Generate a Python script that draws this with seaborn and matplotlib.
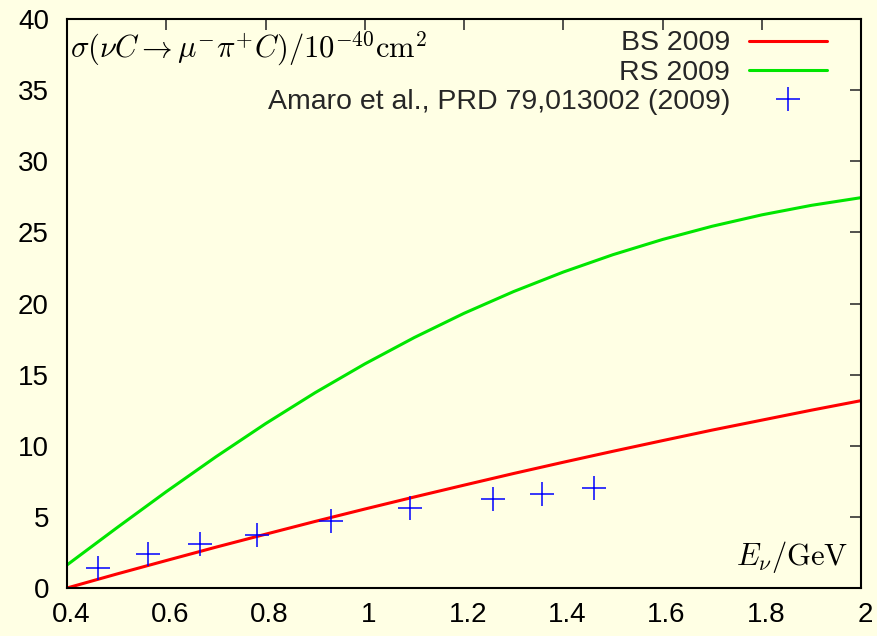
import matplotlib
matplotlib.use("Agg")
import matplotlib.pyplot as plt
from matplotlib.lines import Line2D
import matplotlib.transforms as mtransforms
import seaborn as sns
import pandas as pd

# ---- data ----
energy = [0.4, 0.5, 0.6, 0.7, 0.8, 0.9, 1.0, 1.1, 1.2, 1.3, 1.4, 1.5, 1.6, 1.7, 1.8, 1.9, 2.0]
bs2009 = [0.0, 0.98, 1.93, 2.87, 3.78, 4.68, 5.55, 6.40, 7.23, 8.05, 8.84, 9.61, 10.36, 11.10, 11.80, 12.50, 13.17]
rs2009 = [1.62, 4.22, 6.77, 9.22, 11.55, 13.73, 15.75, 17.61, 19.31, 20.84, 22.21, 23.43, 24.50, 25.43, 26.23, 26.90, 27.44]
amaro_e = [0.463, 0.563, 0.668, 0.782, 0.932, 1.091, 1.259, 1.357, 1.462]
amaro_xs = [1.43, 2.37, 3.07, 3.73, 4.69, 5.60, 6.26, 6.63, 7.01]
xticks = [0.4, 0.6, 0.8, 1.0, 1.2, 1.4, 1.6, 1.8, 2.0]
xticklabels = ["0.4", "0.6", "0.8", "1", "1.2", "1.4", "1.6", "1.8", "2"]
yticks = [0, 5, 10, 15, 20, 25, 30, 35, 40]
labels = ["BS 2009", "RS 2009", "Amaro et al., PRD 79,013002 (2009)"]

BG = "#ffffe4"
RED = "#ff0000"
GREEN = "#00e600"
BLUE = "#0000ff"

sns.set_theme(style="white")
plt.rcParams["font.family"] = ["Liberation Sans", "DejaVu Sans"]
plt.rcParams["mathtext.fontset"] = "cm"

FS = 20
LFS = 20.5

fig = plt.figure(figsize=(8.78, 6.36), dpi=100, facecolor=BG)
ax = fig.add_axes([67/878, 1-588/636, (861-67)/878, (588-19)/636])
ax.set_facecolor(BG)

curves = pd.DataFrame({"E": energy, "BS": bs2009, "RS": rs2009})
pts = pd.DataFrame({"E": amaro_e, "xs": amaro_xs})

sns.lineplot(data=curves, x="E", y="BS", color=RED, linewidth=2.2, ax=ax)
sns.lineplot(data=curves, x="E", y="RS", color=GREEN, linewidth=2.2, ax=ax)
sns.scatterplot(data=pts, x="E", y="xs", marker="+", s=300, linewidth=1.1, color=BLUE, ax=ax, zorder=3)

ax.set_xlim(0.4, 2.0)
ax.set_ylim(0, 40)
ax.set_xticks(xticks)
ax.set_xticklabels(xticklabels)
ax.set_yticks(yticks)
ax.set_xlabel("")
ax.set_ylabel("")
ax.tick_params(axis="both", which="both", direction="in", length=8, width=1.2,
               color="#333333", labelsize=FS, top=True, right=True, labelcolor="black")
ax.tick_params(axis="x", pad=10)
ax.tick_params(axis="y", pad=13)
offset = mtransforms.ScaledTranslation(4/100, 0, fig.dpi_scale_trans)
for lab in ax.get_xticklabels():
    lab.set_transform(lab.get_transform() + offset)
for s in ax.spines.values():
    s.set_visible(True)
    s.set_color("black")
    s.set_linewidth(1.5)

ax.text(0.004, 0.948, r"$\sigma(\nu C \rightarrow \mu^{-}\pi^{+}C)/10^{-40}\mathrm{cm}^2$",
        transform=ax.transAxes, fontsize=22, ha="left", va="center", color="black")
ax.text(0.9836, 0.0545, r"$E_\nu/\mathrm{GeV}$", transform=ax.transAxes,
        fontsize=22, ha="right", va="center", color="black")

handles = [Line2D([], [], color=RED, linewidth=2.2),
           Line2D([], [], color=GREEN, linewidth=2.2),
           Line2D([], [], color=BLUE, marker="+", linestyle="", markersize=17, markeredgewidth=1.1)]
ax.legend(handles, labels, loc="upper right", bbox_to_anchor=((827-67)/794, (588-30.5)/569),
          markerfirst=False, frameon=False, fontsize=LFS, handlelength=2.74,
          handletextpad=0.67, labelspacing=0.12, borderpad=0, borderaxespad=0)

fig.savefig("out.png", dpi=100, facecolor=BG)
